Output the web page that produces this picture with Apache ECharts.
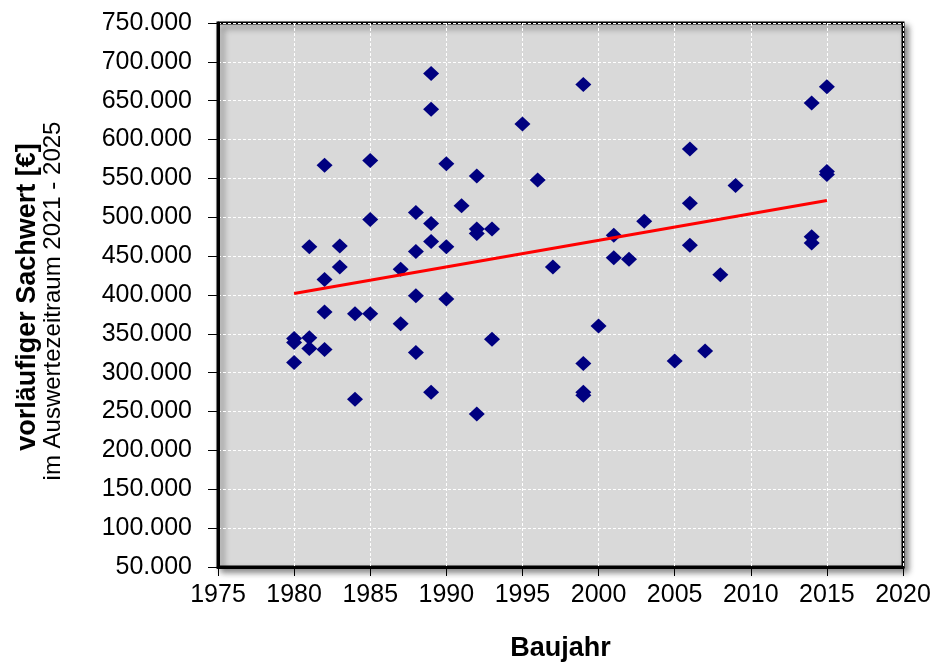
<!DOCTYPE html>
<html>
<head>
<meta charset="utf-8">
<script src="https://cdn.jsdelivr.net/npm/echarts@6/dist/echarts.min.js"></script>
<style>
html,body{margin:0;padding:0;background:#fff;}
#chart{width:936px;height:671px;}
</style>
</head>
<body>
<div id="chart"></div>
<script>
// Baujahr of each object
var baujahr = [
  1980, 1980, 1980,
  1981, 1981, 1981,
  1982, 1982, 1982, 1982,
  1983, 1983,
  1984, 1984,
  1985, 1985, 1985,
  1987, 1987,
  1988, 1988, 1988, 1988,
  1989, 1989, 1989, 1989, 1989,
  1990, 1990, 1990,
  1991,
  1992, 1992, 1992, 1992,
  1993, 1993,
  1995,
  1996,
  1997,
  1999, 1999, 1999, 1999,
  2000,
  2001, 2001,
  2002,
  2003,
  2005,
  2006, 2006, 2006,
  2007,
  2008,
  2009,
  2014, 2014, 2014,
  2015, 2015, 2015
];
// vorläufiger Sachwert in €
var sachwert = [
  344000, 339000, 313000,
  462000, 345000, 331000,
  567000, 420000, 378000, 330000,
  463000, 436000,
  376000, 266000,
  573000, 497000, 376000,
  433000, 363000,
  506000, 456000, 399000, 326000,
  685000, 639000, 492000, 469000, 275000,
  569000, 462000, 395000,
  515000,
  553000, 485000, 479000, 247000,
  485000, 343000,
  620000,
  548000,
  436000,
  671000, 312000, 275000, 271000,
  360000,
  477000, 448000,
  446000,
  495000,
  315000,
  588000, 518000, 464000,
  328000,
  426000,
  541000,
  647000, 475000, 467000,
  668000, 559000, 555000
];
// Trendline endpoints
var trendJahr = [1980, 2015];
var trendWert = [402000, 521500];

var yTitle = 'vorläufiger Sachwert [€]';
var ySubTitle = 'im Auswertezeitraum 2021 - 2025';
var xTitle = 'Baujahr';

var points = baujahr.map(function (j, i) { return [j, sachwert[i]]; });
var trend = trendJahr.map(function (j, i) { return [j, trendWert[i]]; });

function fmt(v) {
  return String(Math.round(v)).replace(/\B(?=(\d{3})+(?!\d))/g, '.');
}

var FONT = "'Liberation Sans', Arial, sans-serif";
var chart = echarts.init(document.getElementById('chart'), null, {renderer: 'canvas'});
chart.setOption({
  animation: false,
  backgroundColor: '#ffffff',
  grid: {
    left: 218, top: 23, right: 33, bottom: 104,
    show: true,
    backgroundColor: '#d9d9d9',
    borderColor: '#000000',
    borderWidth: 3,
    shadowColor: 'rgba(0,0,0,0.45)',
    shadowBlur: 6,
    shadowOffsetX: 4,
    shadowOffsetY: 4
  },
  xAxis: {
    type: 'value',
    min: 1975, max: 2020, interval: 5,
    name: xTitle,
    nameLocation: 'middle',
    nameGap: 68,
    nameTextStyle: {fontFamily: FONT, fontSize: 27, fontWeight: 'bold', color: '#000'},
    axisLine: {show: true, onZero: false, lineStyle: {color: '#000', width: 3}},
    axisTick: {show: true, length: 9, lineStyle: {color: '#000', width: 1}},
    axisLabel: {margin: 16, fontFamily: FONT, fontSize: 25, color: '#000',
      formatter: function (v) { return String(v); }},
    splitLine: {show: true, lineStyle: {color: '#ffffff', width: 1, type: [3, 2]}}
  },
  yAxis: {
    type: 'value',
    min: 50000, max: 750000, interval: 50000,
    axisLine: {show: true, onZero: false, lineStyle: {color: '#000', width: 3}},
    axisTick: {show: true, length: 10, lineStyle: {color: '#000', width: 1}},
    axisLabel: {margin: 26, fontFamily: FONT, fontSize: 25, color: '#000', formatter: fmt},
    splitLine: {show: true, lineStyle: {color: '#ffffff', width: 1, type: [3, 2]}}
  },
  graphic: [
    {
      type: 'text', x: 28, y: 297, rotation: Math.PI / 2,
      style: {text: yTitle, fontFamily: FONT, fontSize: 27, fontWeight: 'bold', fill: '#000',
        align: 'center', verticalAlign: 'middle'}
    },
    {
      type: 'text', x: 53, y: 301, rotation: Math.PI / 2,
      style: {text: ySubTitle, fontFamily: FONT, fontSize: 24, fill: '#000',
        align: 'center', verticalAlign: 'middle'}
    }
  ],
  series: [
    {
      type: 'scatter',
      data: points,
      symbol: 'diamond',
      symbolSize: [16, 15],
      itemStyle: {color: '#000080', opacity: 1},
      z: 3
    },
    {
      type: 'line',
      data: trend,
      symbol: 'none',
      lineStyle: {color: '#ff0000', width: 3},
      z: 4
    }
  ]
});
</script>
</body>
</html>
